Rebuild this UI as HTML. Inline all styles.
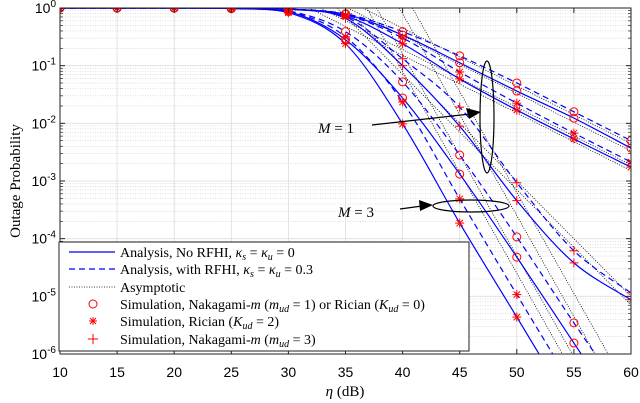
<!DOCTYPE html>
<html><head><meta charset="utf-8"><style>
html,body{margin:0;padding:0;background:#fff;overflow:hidden;width:640px;height:403px;}
svg{display:block;}
svg text{font-family:"Liberation Sans",sans-serif;}
.serif{font-family:"Liberation Serif",serif;}
</style></head><body>
<svg id="chart" width="640" height="403" viewBox="0 0 640 403" xmlns="http://www.w3.org/2000/svg">
<defs><clipPath id="clip"><rect x="60" y="8" width="571" height="346"/></clipPath></defs>
<rect x="60" y="8" width="571" height="346" fill="#fff"/>
<g id="grid"></g>
<g id="asym" clip-path="url(#clip)"></g>
<g id="curves" clip-path="url(#clip)"></g>
<g id="markers" clip-path="url(#clip)"></g>
<rect x="60" y="8" width="571" height="346" fill="none" stroke="#222" stroke-width="1"/>
<g id="ticks"></g>
<text class="serif" x="345" y="396" text-anchor="middle" font-size="15"><tspan font-style="italic">η</tspan> (dB)</text>
<text class="serif" transform="translate(20,181) rotate(-90)" text-anchor="middle" font-size="15">Outage Probability</text>
<g>
<text class="serif" x="318" y="133" font-size="15"><tspan font-style="italic">M</tspan> = 1</text>
<line x1="372" y1="125" x2="470" y2="114" stroke="#000" stroke-width="1.2"/>
<polygon points="481,112 466,108 469,119" fill="#000"/>
<ellipse cx="487" cy="117" rx="7" ry="56" fill="none" stroke="#000" stroke-width="1.2"/>
</g>
<g>
<text class="serif" x="338" y="217" font-size="15"><tspan font-style="italic">M</tspan> = 3</text>
<line x1="400" y1="209" x2="422" y2="206" stroke="#000" stroke-width="1.2"/>
<polygon points="433,205 419,200 420,211" fill="#000"/>
<ellipse cx="471" cy="206" rx="38" ry="6" fill="none" stroke="#000" stroke-width="1.2"/>
</g>
<g>
<rect x="59" y="242" width="410" height="109" fill="#fff" stroke="#222" stroke-width="1"/>
<line x1="69" y1="252" x2="115" y2="252" stroke="#0000ff" stroke-width="1.2"/>
<line x1="69" y1="269" x2="115" y2="269" stroke="#0000ff" stroke-width="1.2" stroke-dasharray="6,4"/>
<line x1="69" y1="287" x2="115" y2="287" stroke="#000" stroke-width="0.8" stroke-dasharray="1,1.5"/>
<circle cx="93" cy="304" r="4" fill="none" stroke="#ff0000" stroke-width="1"/>
<g stroke="#ff0000" stroke-width="1"><line x1="89" y1="321" x2="97" y2="321"/><line x1="93" y1="317" x2="93" y2="325"/><line x1="90" y1="318" x2="96" y2="324"/><line x1="96" y1="318" x2="90" y2="324"/></g>
<g stroke="#ff0000" stroke-width="1"><line x1="88" y1="339" x2="98" y2="339"/><line x1="93" y1="334" x2="93" y2="344"/></g>
<g class="serif" font-size="14">
<text class="serif" x="120" y="257">Analysis, No RFHI, <tspan font-style="italic">κ<tspan font-size="10" dy="3">s</tspan></tspan><tspan dy="-3"> = </tspan><tspan font-style="italic">κ<tspan font-size="10" dy="3">u</tspan></tspan><tspan dy="-3"> = 0</tspan></text>
<text class="serif" x="120" y="274">Analysis, with RFHI, <tspan font-style="italic">κ<tspan font-size="10" dy="3">s</tspan></tspan><tspan dy="-3"> = </tspan><tspan font-style="italic">κ<tspan font-size="10" dy="3">u</tspan></tspan><tspan dy="-3"> = 0.3</tspan></text>
<text class="serif" x="120" y="292">Asymptotic</text>
<text class="serif" x="120" y="309">Simulation, Nakagami-<tspan font-style="italic">m</tspan> (<tspan font-style="italic">m<tspan font-size="10" dy="3">ud</tspan></tspan><tspan dy="-3"> = 1) or Rician (</tspan><tspan font-style="italic">K<tspan font-size="10" dy="3">ud</tspan></tspan><tspan dy="-3"> = 0)</tspan></text>
<text class="serif" x="120" y="326">Simulation, Rician (<tspan font-style="italic">K<tspan font-size="10" dy="3">ud</tspan></tspan><tspan dy="-3"> = 2)</tspan></text>
<text class="serif" x="120" y="344">Simulation, Nakagami-<tspan font-style="italic">m</tspan> (<tspan font-style="italic">m<tspan font-size="10" dy="3">ud</tspan></tspan><tspan dy="-3"> = 3)</tspan></text>
</g>
</g>
</svg>
<script>
const etaValues = [10,15,20,25,30,35,40,45,50,55,60];
const xTickLabels = ["10","15","20","25","30","35","40","45","50","55","60"];
const yTickExponents = [0,-1,-2,-3,-4,-5,-6];
// log10 outage probability values
const m1CircleSolid  = [0,0,0,0,-0.02,-0.11,-0.47,-0.95,-1.44,-1.91,-2.43];
const m1CircleDashed = [0,0,0,0,-0.02,-0.10,-0.41,-0.83,-1.30,-1.80,-2.30];
const m1StarSolid    = [0,0,0,0,-0.02,-0.14,-0.62,-1.23,-1.77,-2.27,-2.76];
const m1StarDashed   = [0,0,0,0,-0.02,-0.12,-0.52,-1.11,-1.65,-2.17,-2.67];
const m1PlusSolid    = [0,0,0,0,-0.02,-0.18,-1.00,-2.05,-3.34,-4.42,-5.06];
const m1PlusDashed   = [0,0,0,0,-0.02,-0.15,-0.88,-1.72,-3.03,-4.21,-4.94];
const m3CircleSolid  = [0,0,0,-0.01,-0.06,-0.55,-1.56,-2.88,-4.32,-5.81,-7.3];
const m3CircleDashed = [0,0,0,-0.01,-0.05,-0.41,-1.28,-2.55,-3.97,-5.46,-6.9];
const m3StarSolid    = [0,0,0,-0.01,-0.08,-0.62,-2.01,-3.73,-5.36,-7.0,-8.6];
const m3StarDashed   = [0,0,0,-0.01,-0.06,-0.50,-1.63,-3.31,-4.97,-6.6,-8.2];
// asymptotes: log10 value at 60 dB and diversity order (decades per 10 dB)
const asymAt60 = [-2.35,-2.48,-2.72,-2.82,-5.0,-5.15,-6.7,-7.1,-7.8,-8.1];
const asymOrder = [1,1,1,1,2,2,3.5,3.5,3.5,3.5];

const NS="http://www.w3.org/2000/svg";
const X0=60,X1=631,Y0=8,Y1=354;
function xs(e){return X0+(e-10)/50*(X1-X0);}
function ys(l){return Y0+(-l)/6*(Y1-Y0);}
function mk(tag,attrs,parent){const el=document.createElementNS(NS,tag);for(const k in attrs)el.setAttribute(k,attrs[k]);parent.appendChild(el);return el;}
const grid=document.getElementById('grid'),ticks=document.getElementById('ticks');
for(let d=0;d<6;d++){for(let m=2;m<=9;m++){const y=ys(-d-1+Math.log10(m));
 const g=mk('line',{x1:X0,x2:X1,y1:y,y2:y,stroke:'#ccc','stroke-width':0.6,'stroke-dasharray':'1,1.5'},grid);
 
 
 mk('line',{x1:X0,x2:X0+3,y1:y,y2:y,stroke:'#222','stroke-width':0.7},ticks);
 mk('line',{x1:X1,x2:X1-3,y1:y,y2:y,stroke:'#222','stroke-width':0.7},ticks);}}
yTickExponents.forEach(p=>{const y=ys(p);
 const g=mk('line',{x1:X0,x2:X1,y1:y,y2:y,stroke:'#ddd','stroke-width':0.8},grid);
 
 
 mk('line',{x1:X0,x2:X0+5,y1:y,y2:y,stroke:'#222'},ticks);
 mk('line',{x1:X1,x2:X1-5,y1:y,y2:y,stroke:'#222'},ticks);
 const t=mk('text',{x:X0-4,y:y+5,'text-anchor':'end','font-size':14},ticks);
 
 
 t.innerHTML='10<tspan font-size="10" dy="-6">'+(p===0?'0':'-'+(-p))+'</tspan>';});
etaValues.forEach((e,i)=>{const x=xs(e);
 const g=mk('line',{x1:x,x2:x,y1:Y0,y2:Y1,stroke:'#ddd','stroke-width':0.8},grid);
 
 
 mk('line',{x1:x,x2:x,y1:Y1,y2:Y1-5,stroke:'#222'},ticks);
 mk('line',{x1:x,x2:x,y1:Y0,y2:Y0+5,stroke:'#222'},ticks);
 const t=mk('text',{x:x,y:377,'text-anchor':'middle','font-size':14},ticks);
 
 
 t.textContent=xTickLabels[i];});
const asym=document.getElementById('asym');
asymAt60.forEach((a,i)=>{const d=asymOrder[i];const eTop=60+a*10/d;
 const l=mk('line',{x1:xs(eTop),y1:ys(0),x2:xs(60),y2:ys(a),stroke:'#000','stroke-width':0.8,'stroke-dasharray':'1,1.5'},asym);
 
 });
function path(vals){const pts=vals.map((v,i)=>[xs(etaValues[i]),ys(v)]);let d='M'+pts[0][0]+','+pts[0][1];
 for(let i=0;i<pts.length-1;i++){const p0=pts[Math.max(0,i-1)],p1=pts[i],p2=pts[i+1],p3=pts[Math.min(pts.length-1,i+2)];
  const c1=[p1[0]+(p2[0]-p0[0])/6,p1[1]+(p2[1]-p0[1])/6],c2=[p2[0]-(p3[0]-p1[0])/6,p2[1]-(p3[1]-p1[1])/6];
  d+=' C'+c1[0]+','+Math.max(c1[1],Y0)+' '+c2[0]+','+Math.max(c2[1],Y0)+' '+p2[0]+','+p2[1];}
 return d;}
const curves=document.getElementById('curves'),markers=document.getElementById('markers');
const series=[[m1CircleSolid,0,'o'],[m1CircleDashed,1,'o'],[m1StarSolid,0,'*'],[m1StarDashed,1,'*'],[m1PlusSolid,0,'+'],[m1PlusDashed,1,'+'],
 [m3CircleSolid,0,'o'],[m3CircleDashed,1,'o'],[m3StarSolid,0,'*'],[m3StarDashed,1,'*']];
series.forEach(([vals,dash,m])=>{
 const p=mk('path',{d:path(vals),fill:'none',stroke:'#0000ff','stroke-width':1.2},curves);
 if(dash)p.setAttribute('stroke-dasharray','6,4');
 
 
 vals.forEach((v,i)=>{const x=xs(etaValues[i]),y=ys(v);if(y>Y1+6)return;let g;
  if(m==='o'){g=mk('circle',{cx:x,cy:y,r:4,fill:'none',stroke:'#ff0000','stroke-width':1},markers);}
  else{g=mk('g',{stroke:'#ff0000','stroke-width':1},markers);
   mk('line',{x1:x-4.5,x2:x+4.5,y1:y,y2:y},g);mk('line',{x1:x,x2:x,y1:y-4.5,y2:y+4.5},g);
   if(m==='*'){mk('line',{x1:x-3.2,x2:x+3.2,y1:y-3.2,y2:y+3.2},g);mk('line',{x1:x+3.2,x2:x-3.2,y1:y-3.2,y2:y+3.2},g);}}
  
  });});
</script>
</body></html>
